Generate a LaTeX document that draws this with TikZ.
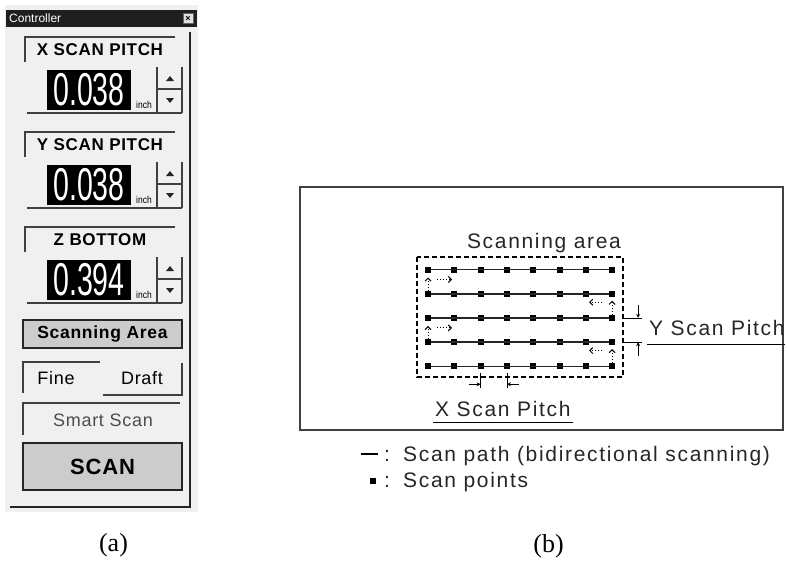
\documentclass[tikz,border=0pt]{standalone}
\usepackage{fontspec}
\usepackage{graphicx}
\setmainfont{Liberation Serif}
\newfontfamily\sfa[LetterSpace=8]{Liberation Sans}
\newfontfamily\sfp[LetterSpace=4]{Liberation Sans}
\newfontfamily\sfb{Liberation Sans}
\usetikzlibrary{arrows.meta,calc}
\newcommand\fsz[1]{\fontsize{#1}{#1}\selectfont}
\begin{document}
\begin{tikzpicture}[x=1pt,y=-1pt,
  grp/.style={draw=black!75,line width=1.1pt},
  hdrf/.style={inner sep=0,font=\sfp\bfseries\fsz{17}},
  regf/.style={inner sep=0,font=\sfp\fsz{18}},
  disp/.style={fill=black,text=white,minimum width=84pt,minimum height=40pt,inner sep=0,font=\sfb\fsz{46}},
  inchf/.style={inner sep=0,font=\sfb\fsz{10}},
  btn/.style={draw=black!85,line width=1.2pt,fill=black!20,inner sep=0},
  lab/.style={inner sep=0,font=\sfa\fsz{21},text=black!85},
  pt/.style={fill=black,minimum size=6pt,inner sep=0},
  rowln/.style={line width=1.6pt,black!85},
  ret/.style={dotted,line width=1pt,-{Straight Barb[length=3pt,width=6pt]}},
  pa/.style={line width=0.8pt,-{Stealth[length=4pt,width=4pt]}},
  thinln/.style={line width=0.8pt}]
\useasboundingbox (0,0) rectangle (787,570);
% ---------------- (a) controller panel
\fill[black!6] (5,5) rectangle (198,512);
\fill[black!88] (6,10) rectangle (197,27);
\node[inner sep=0,anchor=west,text=white,font=\sfb\fsz{12}] (title) at (9,18.5) {Controller};
\node[draw=black!60,fill=black!12,minimum size=10pt,inner sep=0,font=\sfb\bfseries\fsz{9}] (close) at (188,18.5) {×};
\draw[line width=1.4pt,black!85] (190,32) -- (190,507) -- (10,507);
\foreach \yo/\lab/\val/\nm in {37/X SCAN PITCH/0.038/x,132/Y SCAN PITCH/0.038/y,227/Z BOTTOM/0.394/z}{
  \draw[grp] (25,\yo+25) -- (25,\yo) -- (175,\yo);
  \node[hdrf] (hdr-\nm) at (100,\yo+13) {\lab};
  \node[disp] (disp-\nm) at (89,\yo+53) {\scalebox{0.62}[1]{\val}};
  \node[inchf] (inch-\nm) at (144,\yo+68) {\scalebox{0.85}[1]{inch}};
  \draw[grp] (157,\yo+30) -- (157,\yo+76);
  \draw[grp] (182,\yo+30) -- (182,\yo+76);
  \draw[grp] (157,\yo+52) -- (182,\yo+52);
  \draw[grp] (27,\yo+76) -- (182,\yo+76);
  \fill[black!85] (166,\yo+44) -- (174,\yo+44) -- (170,\yo+39) -- cycle;
  \fill[black!85] (166,\yo+61) -- (174,\yo+61) -- (170,\yo+66) -- cycle;
}
\node[btn,minimum width=159pt,minimum height=28pt] (area) at (102.5,334) {};
\node[inner sep=0,font=\sfp\bfseries\fsz{17.5}] (areat) at (area) {Scanning Area};
\draw[grp] (23,393) -- (23,362) -- (100,362);
\draw[grp] (103,395) -- (182,395) -- (182,363);
\node[regf] (fine) at (56,378) {Fine};
\node[regf] (draft) at (142,378) {Draft};
\draw[grp] (23,435) -- (23,403) -- (180,403);
\node[regf,text=black!70] (smart) at (103,420) {Smart Scan};
\node[btn,minimum width=159pt,minimum height=47pt] (scan) at (102.5,466.5) {};
\node[inner sep=0,font=\sfp\bfseries\fsz{22}] (scant) at (scan) {SCAN};
% ---------------- (b) scanning scheme
\draw[line width=1.5pt,black!75] (300,187) rectangle (783,430);
\node[lab,anchor=base] (sa) at (544,248) {Scanning area};
\draw[line width=1.4pt,dash pattern=on 5pt off 3pt] (417,257) rectangle (623,377);
\foreach \i in {0,...,4}{
  \foreach \j in {0,...,7}{
    \node[pt] (p-\i-\j) at (428+26.3*\j,269.5+24.2*\i) {};
  }
  \draw[rowln] (p-\i-0) -- (p-\i-7);
}
% return moves
\draw[ret] (p-1-0.north) -- ++(0,-13);
\draw[ret] ($(p-0-0)+(9,10)$) -- ++(15,0);
\draw[ret] (p-3-0.north) -- ++(0,-13);
\draw[ret] ($(p-2-0)+(9,10)$) -- ++(15,0);
\draw[ret] (p-2-7.north) -- ++(0,-14);
\draw[ret] ($(p-1-7)+(-10,8.5)$) -- ++(-13,0);
\draw[ret] (p-4-7.north) -- ++(0,-14);
\draw[ret] ($(p-3-7)+(-10,8.5)$) -- ++(-13,0);
% Y pitch
\coordinate (ya) at ($(p-2-7)+(10,0)$);
\coordinate (yb) at ($(p-3-7)+(10,0)$);
\draw[thinln] (ya) -- ++(20,0);
\draw[thinln] (yb) -- ++(20,0);
\draw[pa] ($(ya)+(16,-13)$) -- ($(ya)+(16,0)$);
\draw[pa] ($(yb)+(16,14)$) -- ($(yb)+(16,0)$);
\node[lab,anchor=base west] (yp) at (649,335) {Y Scan Pitch};
\draw[thinln] (647,344) -- (785,344);
% X pitch
\coordinate (xa) at ($(p-4-2)+(0,7)$);
\coordinate (xb) at ($(p-4-3)+(0,7)$);
\draw[thinln] (xa) -- ++(0,15);
\draw[thinln] (xb) -- ++(0,15);
\draw[pa] ($(xa)+(-12,11)$) -- ($(xa)+(0,11)$);
\draw[pa] ($(xb)+(12,11)$) -- ($(xb)+(0,11)$);
\node[lab,anchor=base west] (xp) at (435,416) {X Scan Pitch};
\draw[thinln] (433,422) -- (573,422);
% legend
\coordinate (l1) at (361,454);
\draw[line width=1.3pt] (l1) -- ++(17,0);
\node[lab,anchor=base] (c1) at (387,461) {:};
\node[lab,anchor=base west] (t1) at (403,461) {Scan path (bidirectional scanning)};
\node[pt] (lp) at (373,481) {};
\node[lab,anchor=base] (c2) at (387,487) {:};
\node[lab,anchor=base west] (t2) at (403,487) {Scan points};
% captions
\node[inner sep=0,font=\fsz{26}] (capa) at (113.5,545) {(a)};
\node[inner sep=0,font=\fsz{26}] (capb) at (548.5,546) {(b)};
\end{tikzpicture}
\end{document}
